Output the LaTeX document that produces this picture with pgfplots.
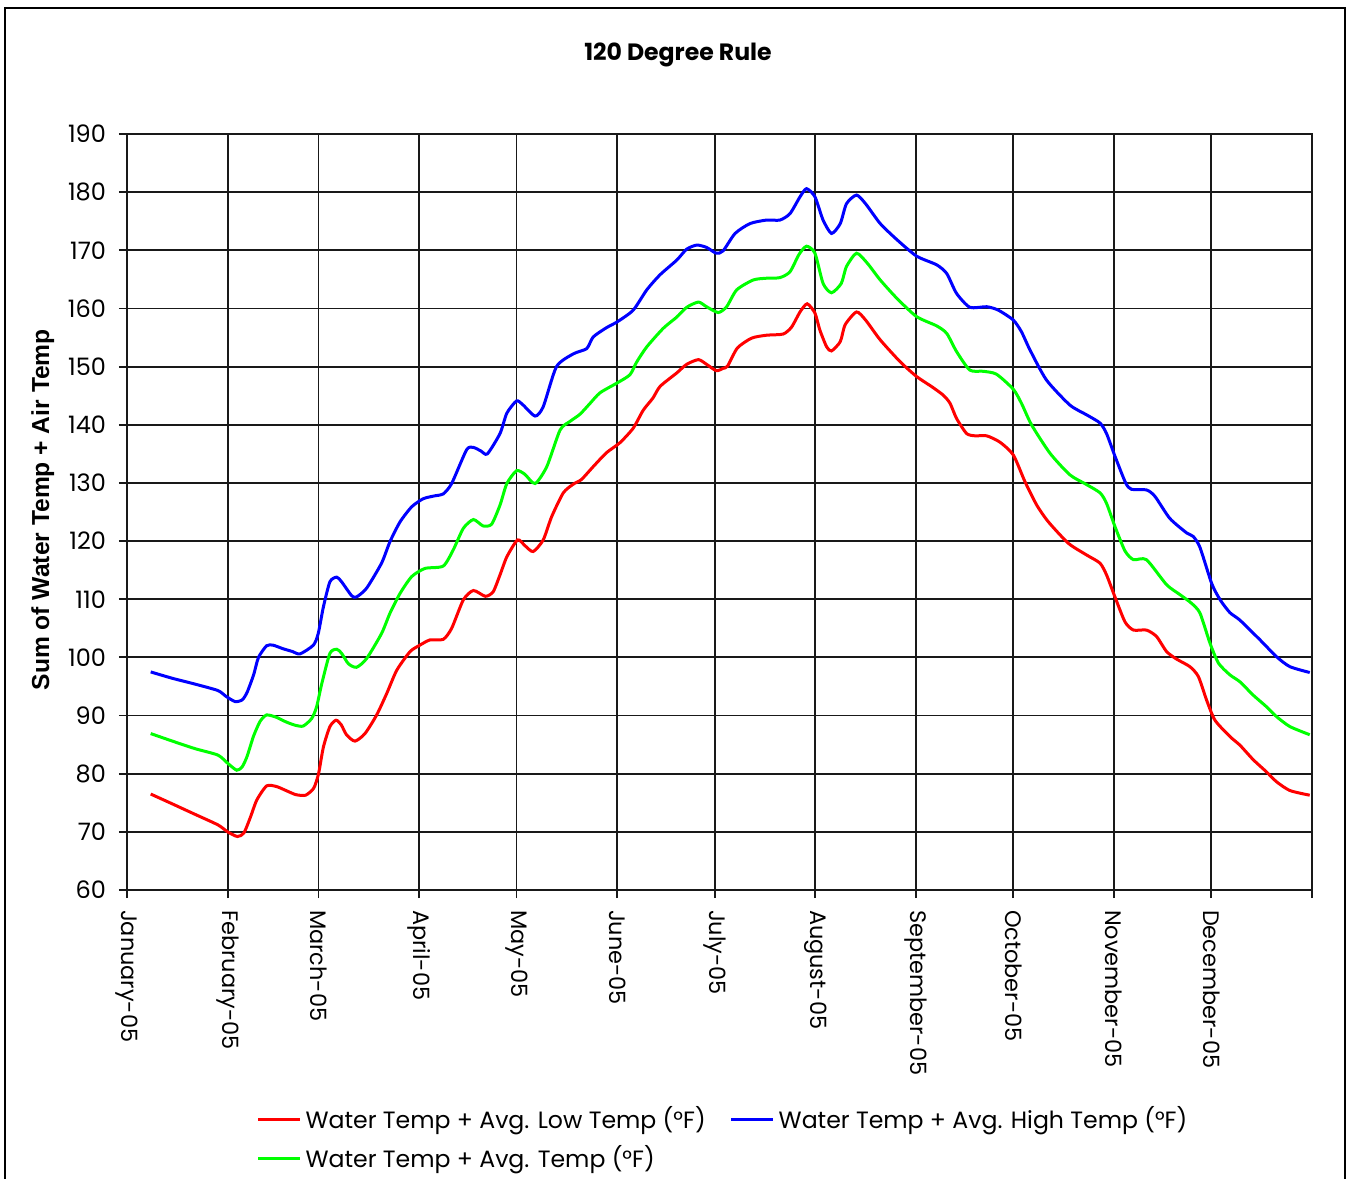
\documentclass[border=0pt]{standalone}
\usepackage{fontspec}
\setmainfont{Poppins}
\newfontfamily\arialfont{Liberation Sans}
\usepackage{pgfplots}
\pgfplotsset{compat=1.18}
\begin{document}
\begin{tikzpicture}
\useasboundingbox (-63.5pt,-144pt) rectangle (612.5pt,445pt);
\draw[line width=1pt] (-61pt,-150pt) -- (-61pt,441pt) -- (609pt,441pt) -- (609pt,-150pt);
\begin{axis}[
  at={(0,0)}, anchor=south west,
  scale only axis, width=592.5pt, height=378pt,
  xmin=0, xmax=365, ymin=60, ymax=190,
  xtick={0,31,59,90,120,151,181,212,243,273,304,334,365},
  xticklabels={January-05,February-05,March-05,April-05,May-05,June-05,July-05,August-05,September-05,October-05,November-05,December-05,{}},
  ytick={60,70,...,190},
  /pgf/number format/assume math mode=true,
  tick align=outside, major tick length=4pt,
  xtick pos=bottom, ytick pos=left,
  grid=major,
  major grid style={line width=0.9pt, black!90},
  axis line style={line width=0.9pt, black!90},
  every tick/.style={line width=0.9pt, black!90},
  ticklabel style={font=\fontsize{12}{14}\selectfont},
  xticklabel style={rotate=-90, anchor=west, xshift=2.5pt, font=\fontsize{11.2}{13}\selectfont},
  yticklabel style={anchor=east, xshift=-3pt},
  ylabel={\arialfont\bfseries Sum of Water Temp + Air Temp},
  ylabel style={at={(axis description cs:-0.071,0.503)}, anchor=center, font=\fontsize{12.3}{14}\selectfont},
  legend columns=2,
  legend style={draw=none, at={(axis description cs:0.104,-0.2755)}, anchor=north west,
    font=\fontsize{11.8}{14}\selectfont, column sep=0pt, row sep=3pt,
    /tikz/column 2/.style={column sep=10pt}},
  legend cell align=left,
  legend image code/.code={\draw[#1] (0pt,0pt) -- (21pt,0pt);},
  every axis plot/.append style={line width=1.5pt, smooth, tension=0.4},
]
\addplot[color=red] coordinates {
(7.3,76.5)(14,74.8)(21,73)(28,71.2)(31,70)(34,69.2)(36,69.8)(38,72.5)(40,75.5)(43,77.9)(46,77.8)(49,77.1)(52,76.4)(55,76.3)(57.5,77.5)(59,80)(60.5,84.6)(62.5,88.1)(64.4,89.2)(66,88.4)(67.6,86.7)(70.2,85.6)(73.3,86.9)(76.9,90.1)(80,93.8)(83.1,97.8)(87.2,101)(90.2,102.1)(93.3,103)(97.4,103.1)(100,105)(103.6,109.9)(106.7,111.5)(110.4,110.5)(112.8,111.3)(114.9,114.2)(117,117.3)(120.3,120.2)(122.6,119.2)(125.1,118.2)(128.2,120.2)(130.8,124.2)(134.4,128.3)(137.5,129.8)(140,130.6)(143.6,132.8)(147.7,135.2)(151.8,136.9)(155.9,139.4)(159,142.5)(162,144.6)(164.2,146.6)(169.3,148.9)(172.4,150.4)(176,151.2)(178.5,150.4)(181.5,149.3)(183.6,149.7)(185,150.1)(188,153.2)(192.4,154.9)(197,155.4)(202.1,155.6)(204.7,156.8)(207.3,159.4)(209.5,160.8)(211.9,159.2)(213.4,156.3)(215.5,153.4)(217,152.7)(219.7,154.3)(221.2,157.2)(224.7,159.4)(227.5,158)(232,154.6)(238.2,150.8)(243.2,148.3)(248,146.5)(251.4,145.1)(253.5,143.7)(255.5,141.1)(258.6,138.5)(261.2,138.1)(264.8,138.1)(268.9,137.0)(273,134.8)(276.6,130.2)(280.2,126.2)(283.8,123.3)(290,119.6)(295.6,117.6)(299.7,116.2)(301.7,114.2)(304.3,110.4)(307.4,106.1)(310,104.7)(314,104.7)(317.1,103.6)(320.2,101)(323.3,99.7)(327.4,98.4)(330,96.7)(332.5,92.7)(335.1,89.2)(339.7,86.4)(342.8,84.9)(346.9,82.4)(351,80.3)(354.1,78.6)(358.2,77.1)(364.3,76.3)
};
\addlegendentry{Water Temp + Avg. Low Temp (°F)}
\addplot[color=blue] coordinates {
(7.3,97.5)(14,96.4)(21,95.4)(28,94.3)(30.5,93.3)(33.3,92.4)(35.5,92.7)(37,94)(39,97)(40.5,100)(43,102)(45,102.1)(48,101.5)(51,101)(53.3,100.6)(57.4,102.1)(58.9,104.1)(60.5,108.7)(62.5,113)(64.6,113.8)(66.1,113)(69.2,110.6)(70.7,110.4)(73.8,111.9)(78.4,116.2)(81,119.9)(84.1,123.3)(87.7,125.9)(91.3,127.3)(95,127.8)(97.4,128.1)(100,129.9)(104.6,135.7)(106.7,136.1)(109,135.5)(111,135)(114.9,138.5)(117,142)(120,144.1)(122,143.4)(125.7,141.5)(128.2,143.1)(132.3,150)(137.5,152.2)(141.6,153.1)(143.6,155.1)(147.7,156.7)(151,157.7)(155.9,159.7)(160.1,163.2)(164.2,165.8)(169.3,168.3)(172.4,170.2)(175.5,170.9)(178.5,170.5)(181.5,169.5)(183.6,169.9)(187.3,172.9)(191.9,174.6)(197,175.2)(201.1,175.2)(204.2,176.3)(207.3,179.2)(209.3,180.6)(211.9,179.2)(214.4,175.2)(217,172.9)(219.7,174.6)(221.6,178)(224.7,179.5)(227.5,178)(232,174.6)(237.2,171.8)(243.2,169)(249.4,167.5)(252.5,166)(255.5,162.6)(259.6,160.2)(264.8,160.3)(268.4,159.7)(273,158)(275.5,156)(278.1,152.9)(283.2,147.7)(290.4,143.4)(295.6,141.7)(299.7,140.3)(301.7,138.5)(304.3,134.6)(307.6,130)(309.4,128.9)(314,128.8)(316.6,127.7)(321.2,123.9)(326.4,121.4)(328.4,120.8)(330.5,118.9)(334.1,112.7)(336.7,109.9)(339.7,107.7)(342.8,106.4)(349,103)(354.1,100.1)(358.2,98.4)(364.3,97.4)
};
\addlegendentry{Water Temp + Avg. High Temp (°F)}
\addplot[color=green] coordinates {
(7.3,86.9)(14,85.6)(21,84.3)(28,83.2)(31,81.8)(33.8,80.6)(35.5,81.2)(37,83)(39,86.5)(41,89)(43,90.1)(46,89.7)(49,88.9)(52,88.3)(54.3,88.2)(56.9,89.5)(58.4,91.5)(60,95.5)(62.5,100.7)(64.6,101.4)(66.1,100.7)(68.2,98.9)(70.7,98.3)(73.8,99.8)(78.4,104.1)(81,107.6)(84.1,111)(87.7,113.9)(91.8,115.3)(97.4,115.7)(100.5,118.5)(103.6,122.2)(106.7,123.7)(109.7,122.6)(112.3,122.9)(114.9,126.2)(117,129.9)(120,132.1)(122.5,131.5)(125.7,129.9)(129.3,132.8)(133.4,139.1)(136.5,140.6)(139.5,141.8)(142.5,143.6)(145.7,145.5)(151,147.2)(154.9,148.6)(157,150.8)(160.1,153.4)(165.2,156.6)(169.3,158.5)(172.4,160.2)(176,161.1)(178.5,160.3)(182.1,159.3)(184.7,160.3)(187.8,163.2)(192.9,164.9)(197,165.2)(201.1,165.3)(204.2,166.3)(207,169.3)(209.3,170.7)(211.9,169.5)(214.4,164.3)(217,162.7)(220,164.3)(221.6,167.2)(224.7,169.5)(228,167.8)(232,164.9)(237.2,161.7)(243.2,158.6)(249.4,157)(252.5,155.7)(255.5,152.6)(259.6,149.4)(263.7,149.2)(267.8,148.7)(273,146.1)(275.5,143.7)(278.6,140)(284.3,135.1)(290.4,131.4)(295.3,129.8)(299.7,128.3)(301.7,126.5)(304.3,122.5)(307.4,118.3)(310,116.8)(314,116.8)(320.2,112.5)(324.3,110.8)(327.9,109.3)(330.5,107.6)(333.6,102.4)(336.2,99)(339.7,97)(342.8,95.8)(346.9,93.5)(351,91.5)(354.1,89.8)(358.2,88.1)(364.3,86.7)
};
\addlegendentry{Water Temp + Avg. Temp (°F)}
\end{axis}
\node[font=\fontsize{11.8}{14}\selectfont\bfseries] at (275.5pt,417.5pt) {120 Degree Rule};
\end{tikzpicture}
\end{document}
